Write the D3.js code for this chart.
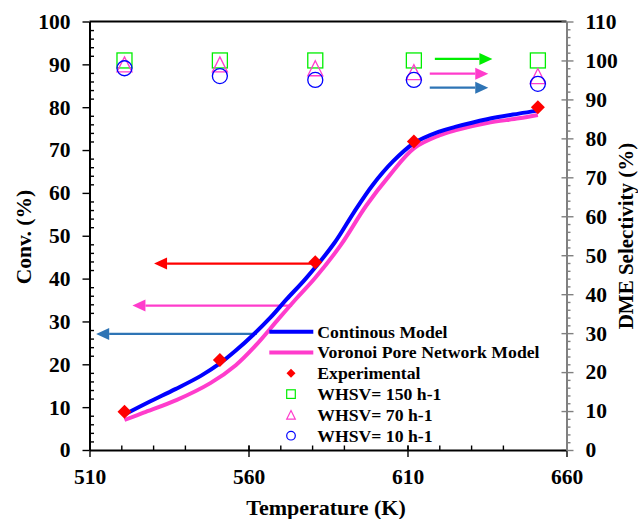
<!DOCTYPE html>
<html><head><meta charset="utf-8">
<script src="https://cdn.jsdelivr.net/npm/d3@7"></script>
<style>
body{margin:0;background:#fff}
svg{display:block}
text{font-family:"Liberation Serif","Times New Roman",serif;font-weight:bold;fill:#000}
</style>
</head><body>
<svg id="c" width="638" height="519"></svg>
<script>
// ---------- data ----------
const expTemps = [521, 551, 581, 612, 651];
const expConv  = [8.9, 21.0, 43.8, 72.0, 80.0];
const sel150 = [100, 100, 100, 100, 100];
const sel70  = [99, 99, 98, 97, 96];
const sel10  = [98, 96, 95, 95, 94];

const contTemps = [521, 529, 537, 545, 551, 556, 561.5, 567, 572, 578, 587, 593, 599, 605.5, 612, 620, 625, 635, 645, 651];
const contConv  = [8.3, 11.3, 14.2, 17.3, 20.2, 23.2, 26.9, 31.0, 35.2, 40.0, 48.3, 55.3, 61.8, 67.4, 71.6, 74.3, 75.4, 77.2, 78.5, 79.2];

const vorTemps = [521, 527, 537.5, 548, 556, 562.5, 569, 575, 581, 589, 597, 604.5, 612, 620, 625, 635, 645, 651];
const vorConv  = [7.0, 8.7, 11.7, 15.6, 19.8, 24.6, 30.2, 35.3, 40.2, 47.8, 57.0, 64.2, 70.4, 73.4, 74.6, 76.3, 77.4, 78.2];

const xTickVals = [510, 560, 610, 660];
const convTickVals = [0, 10, 20, 30, 40, 50, 60, 70, 80, 90, 100];
const selTickVals = [0, 10, 20, 30, 40, 50, 60, 70, 80, 90, 100, 110];

// annotation arrows (data coordinates): [y, fromT, toT]
const convArrows = [[43.5, 581, 530.3], [33.7, 573.7, 523.5], [27.1, 562.6, 512.1]];
const selArrows  = [[100.4, 618.6, 636.7], [96.6, 617.0, 635.4], [93.0, 617.0, 635.4]];

const legendLabels = ["Continous Model", "Voronoi Pore Network Model", "Experimental",
  "WHSV= 150 h-1", "WHSV= 70 h-1", "WHSV= 10 h-1"];

// ---------- styles ----------
const C_BLUE = "#0000ff", C_MAG = "#ff3ccc", C_RED = "#ff0000", C_GREEN = "#00ee00", C_STEEL = "#2e74b5", C_GRAY = "#808080";
const convArrowColors = [C_RED, C_MAG, C_STEEL];
const selArrowColors = [C_GREEN, C_MAG, C_STEEL];

const L = 89.5, R = 566.5, T = 21.5, B = 450;
const svg = d3.select("#c");
const x  = d3.scaleLinear().domain([510, 660]).range([L, R]);
const yL = d3.scaleLinear().domain([0, 100]).range([B, T]);
const yR = d3.scaleLinear().domain([0, 110]).range([B, T]);

function styleAxis(g, color) {
  g.attr("font-family", null).attr("font-size", null);
  g.selectAll("line").attr("stroke", color).attr("stroke-width", 1.4);
  g.selectAll(".domain").attr("stroke", color).attr("stroke-width", 2);
  g.selectAll("text").style("font-size", "21.5px");
}
function noDomain(g){ g.select(".domain").remove(); }

// top frame
svg.append("line").attr("x1", x(510)).attr("x2", x(660)).attr("y1", yL(100)).attr("y2", yL(100))
  .attr("stroke", "#000").attr("stroke-width", 2);

// minor ticks
const xMinor = d3.range(510, 661, 10).filter(v => v % 50 !== 0);
const gxm = svg.append("g").attr("transform", `translate(0,${B})`)
  .call(d3.axisBottom(x).tickValues(xMinor).tickSizeInner(-4.5).tickSizeOuter(0).tickFormat(""));
noDomain(gxm); styleAxis(gxm, "#000");
const gxi = svg.append("g").attr("transform", `translate(0,${B})`)
  .call(d3.axisBottom(x).tickValues(xTickVals).tickSizeInner(-4.5).tickSizeOuter(0).tickFormat(""));
noDomain(gxi); styleAxis(gxi, "#000");

const lMinor = d3.range(0, 101, 2).filter(v => v % 10 !== 0);
const glm = svg.append("g").attr("transform", `translate(${L},0)`)
  .call(d3.axisLeft(yL).tickValues(lMinor).tickSizeInner(-4.5).tickSizeOuter(0).tickFormat(""));
noDomain(glm); styleAxis(glm, "#000");

const rMinor = d3.range(0, 111, 2).filter(v => v % 10 !== 0);
const grm = svg.append("g").attr("transform", `translate(${R},0)`)
  .call(d3.axisRight(yR).tickValues(rMinor).tickSizeInner(4).tickSizeOuter(0).tickFormat(""));
noDomain(grm); styleAxis(grm, C_GRAY);
const gri = svg.append("g").attr("transform", `translate(${R},0)`)
  .call(d3.axisRight(yR).tickValues(selTickVals).tickSizeInner(-5).tickSizeOuter(0).tickFormat(""));
noDomain(gri); styleAxis(gri, C_GRAY);

// main axes
const gx = svg.append("g").attr("transform", `translate(0,${B})`)
  .call(d3.axisBottom(x).tickValues(xTickVals).tickSizeInner(7).tickSizeOuter(0).tickPadding(11.5).tickFormat(d3.format("d")));
styleAxis(gx, "#000");
const gl = svg.append("g").attr("transform", `translate(${L},0)`)
  .call(d3.axisLeft(yL).tickValues(convTickVals).tickSizeInner(7).tickSizeOuter(0).tickPadding(12).tickFormat(d3.format("d")));
styleAxis(gl, "#000");
const gr = svg.append("g").attr("transform", `translate(${R},0)`)
  .call(d3.axisRight(yR).tickValues(selTickVals).tickSizeInner(7).tickSizeOuter(0).tickPadding(12).tickFormat(d3.format("d")));
styleAxis(gr, C_GRAY);
gr.selectAll("text").style("fill", "#000");

// axis titles
svg.append("text").attr("x", 326).attr("y", 515).attr("text-anchor", "middle").style("font-size", "22px").text("Temperature (K)");
svg.append("text").attr("transform", "translate(31,237) rotate(-90)").attr("text-anchor", "middle").style("font-size", "21.5px").text("Conv. (%)");
svg.append("text").attr("transform", "translate(632.5,236) rotate(-90)").attr("text-anchor", "middle").style("font-size", "21px").text("DME Selectivity (%)");

// arrows
function arrow(x1, x2, yy, color) {
  const dir = Math.sign(x2 - x1), hl = 13, hh = 6;
  svg.append("line").attr("x1", x1).attr("x2", x2 - dir * hl).attr("y1", yy).attr("y2", yy)
    .attr("stroke", color).attr("stroke-width", 2.2);
  svg.append("path").attr("d", `M${x2},${yy}L${x2 - dir * hl},${yy - hh}L${x2 - dir * hl},${yy + hh}Z`).attr("fill", color);
}
convArrows.forEach((a, i) => arrow(x(a[1]), x(a[2]), yL(a[0]), convArrowColors[i]));
selArrows.forEach((a, i) => arrow(x(a[1]), x(a[2]), yR(a[0]), selArrowColors[i]));

// model curves
const lineGen = (ts, vs) => d3.line().curve(d3.curveCatmullRom.alpha(0.5)).x((d, i) => x(ts[i])).y((d, i) => yL(vs[i]))(vs);
svg.append("path").attr("d", lineGen(vorTemps, vorConv)).attr("fill", "none").attr("stroke", C_MAG).attr("stroke-width", 4);
svg.append("path").attr("d", lineGen(contTemps, contConv)).attr("fill", "none").attr("stroke", C_BLUE).attr("stroke-width", 4);

// markers
function diamond(cx, cy, r) { return `M${cx},${cy - r}L${cx + r},${cy}L${cx},${cy + r}L${cx - r},${cy}Z`; }
function tri(cx, cy, s) { return `M${cx},${cy - s}L${cx + s},${cy + s}L${cx - s},${cy + s}Z`; }

svg.append("g").selectAll("rect").data(sel150).join("rect")
  .attr("x", (d, i) => x(expTemps[i]) - 7.5).attr("y", d => yR(d) - 7.5).attr("width", 15).attr("height", 15)
  .attr("fill", "none").attr("stroke", C_GREEN).attr("stroke-width", 1.3);
svg.append("g").selectAll("path").data(sel70).join("path")
  .attr("d", (d, i) => tri(x(expTemps[i]), yR(d), 7.5))
  .attr("fill", "none").attr("stroke", C_MAG).attr("stroke-width", 1.3);
svg.append("g").selectAll("circle").data(sel10).join("circle")
  .attr("cx", (d, i) => x(expTemps[i])).attr("cy", d => yR(d)).attr("r", 7.5)
  .attr("fill", "none").attr("stroke", C_BLUE).attr("stroke-width", 1.3);
svg.append("g").selectAll("path").data(expConv).join("path")
  .attr("d", (d, i) => diamond(x(expTemps[i]), yL(d), 7)).attr("fill", C_RED);

// legend
const lg = svg.append("g");
const rowY = i => 331.7 + i * 20.8;
lg.append("line").attr("x1", 269.3).attr("x2", 313.3).attr("y1", rowY(0)).attr("y2", rowY(0)).attr("stroke", C_BLUE).attr("stroke-width", 4);
lg.append("line").attr("x1", 269.3).attr("x2", 313.3).attr("y1", rowY(1)).attr("y2", rowY(1)).attr("stroke", C_MAG).attr("stroke-width", 4);
lg.append("path").attr("d", diamond(291, rowY(2), 4.5)).attr("fill", C_RED);
lg.append("rect").attr("x", 291 - 4.3).attr("y", rowY(3) - 4.3).attr("width", 8.6).attr("height", 8.6).attr("fill", "none").attr("stroke", C_GREEN).attr("stroke-width", 1.2);
lg.append("path").attr("d", tri(291, rowY(4), 4.3)).attr("fill", "none").attr("stroke", C_MAG).attr("stroke-width", 1.2);
lg.append("circle").attr("cx", 291).attr("cy", rowY(5)).attr("r", 4.3).attr("fill", "none").attr("stroke", C_BLUE).attr("stroke-width", 1.2);
lg.selectAll("text").data(legendLabels).join("text")
  .attr("x", 317.3).attr("y", (d, i) => rowY(i) + 5.8).style("font-size", "17.7px").text(d => d);
</script>
</body></html>
